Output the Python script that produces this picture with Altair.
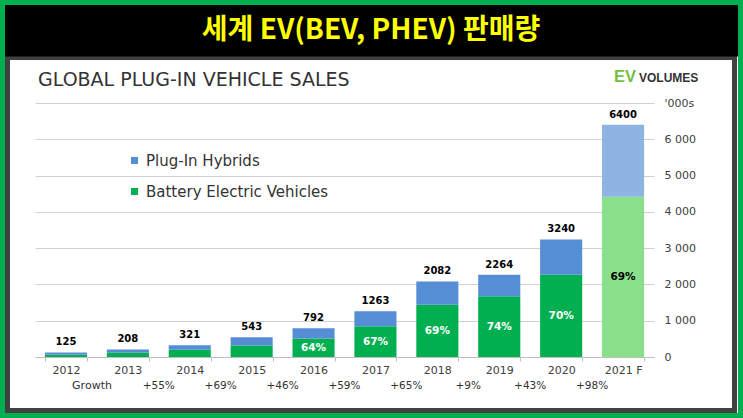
import altair as alt
import pandas as pd

# ---- data -------------------------------------------------------------
years = ["2012", "2013", "2014", "2015", "2016", "2017", "2018", "2019", "2020", "2021 F"]
totals = [125, 208, 321, 543, 792, 1263, 2082, 2264, 3240, 6400]          # '000s units
bev_share = [0.50, 0.57, 0.63, 0.59, 0.64, 0.67, 0.69, 0.74, 0.70, 0.69]  # BEV share of total
share_shown = [False, False, False, False, True, True, True, True, True, True]
growth_labels = ["", "", "+55%", "+69%", "+46%", "+59%", "+65%", "+9%", "+43%", "+98%"]
series = ["Plug-In Hybrids", "Battery Electric Vehicles"]
y_ticks = [0, 1000, 2000, 3000, 4000, 5000, 6000, 7000]

main_title = "세계 EV(BEV, PHEV) 판매량"
sub_title = "GLOBAL PLUG-IN VEHICLE SALES"

FONT = "DejaVu Sans"

# ---- tables -------------------------------------------------------------
per_year = pd.DataFrame({
    "year": years,
    "total": totals,
    "share": bev_share,
    "shown": share_shown,
    "growth": growth_labels,
})
per_year["bev"] = per_year["total"] * per_year["share"]
per_year["forecast"] = per_year["year"].str.endswith("F")

rows = []
for _, r in per_year.iterrows():
    suffix = " (F)" if r["forecast"] else ""
    rows.append({"year": r["year"], "series": series[1], "key": series[1] + suffix,
                 "value": r["bev"], "stack_order": 0})
    rows.append({"year": r["year"], "series": series[0], "key": series[0] + suffix,
                 "value": r["total"] - r["bev"], "stack_order": 1})
bars_df = pd.DataFrame(rows)

color_domain = [series[0], series[1], series[0] + " (F)", series[1] + " (F)"]
color_range = ["#558ED5", "#00B050", "#8DB4E2", "#8AE08A"]

# shared axes / scales so that every layer merges into the same guides
x_axis = alt.Axis(title=None, labelAngle=0, tickBand="extent",
                  domainColor="#BFBFBF", tickColor="#BFBFBF", tickSize=4,
                  labelPadding=3, labelFontSize=11, labelColor="#404040",
                  labelFont=FONT)
x_scale = alt.Scale(paddingInner=0.32, paddingOuter=0.16)
y_axis = alt.Axis(title=None, orient="right", values=y_ticks, domain=False,
                  ticks=False, labelPadding=10, labelFontSize=11,
                  labelColor="#404040", labelFont=FONT, gridColor="#D0D0D0",
                  labelOverlap=False,
                  labelExpr="datum.value == 7000 ? \"'000s\" : "
                            "replace(format(datum.value, ','), ',', ' ')")
y_scale = alt.Scale(domain=[0, 7000], nice=False)

x_enc = alt.X("year:N", sort=years, scale=x_scale, axis=x_axis)

# ---- stacked bars ---------------------------------------------------------
bars = alt.Chart(bars_df).mark_bar().encode(
    x=x_enc,
    y=alt.Y("value:Q", stack="zero", scale=y_scale, axis=y_axis),
    color=alt.Color(
        "key:N",
        scale=alt.Scale(domain=color_domain, range=color_range),
        legend=alt.Legend(values=series, title=None, orient="none",
                          legendX=92, legendY=50, symbolType="square",
                          symbolSize=49, symbolStrokeWidth=0, labelFont=FONT,
                          labelFontSize=15, labelColor="#333333", labelOffset=4,
                          labelLimit=0, rowPadding=15, padding=0),
    ),
    order=alt.Order("stack_order:Q"),
)

# total on top of every bar
totals_text = alt.Chart(per_year).mark_text(
    dy=-10, font=FONT, fontSize=10, fontWeight="bold", color="black"
).encode(
    x=x_enc,
    y=alt.Y("total:Q", scale=y_scale, axis=y_axis),
    text=alt.Text("total:Q"),
)

# BEV share inside the green segment
share_text = alt.Chart(per_year).transform_filter(
    alt.datum.shown
).transform_calculate(
    mid="datum.bev / 2"
).mark_text(font=FONT, fontSize=10.5, fontWeight="bold").encode(
    x=x_enc,
    y=alt.Y("mid:Q", scale=y_scale, axis=y_axis),
    text=alt.Text("share:Q", format=".0%"),
    color=alt.condition(alt.datum.forecast, alt.value("black"), alt.value("white")),
)

# year-on-year growth row below the axis
growth_text = alt.Chart(per_year).transform_filter(
    alt.datum.growth != ""
).mark_text(dx=-31, font=FONT, fontSize=10.5, color="#333333").encode(
    x=x_enc,
    y=alt.value(283),
    text=alt.Text("growth:N"),
)

growth_head = alt.Chart(pd.DataFrame({"t": ["Growth"]})).mark_text(
    font=FONT, fontSize=11, color="#333333"
).encode(x=alt.value(57), y=alt.value(283), text="t:N")

# ---- frame and headings ---------------------------------------------------
one = pd.DataFrame({"k": [0]})

green_frame = alt.Chart(one).mark_rect(
    fillOpacity=0, stroke="#00B050", strokeWidth=5
).encode(x=alt.value(-32.5), x2=alt.value(705.5), y=alt.value(-100.5), y2=alt.value(312.5))

gray_frame = alt.Chart(one).mark_rect(
    fillOpacity=0, stroke="#404040", strokeWidth=5
).encode(x=alt.value(-27.5), x2=alt.value(699.5), y=alt.value(-45.5), y2=alt.value(307.5))

black_bar = alt.Chart(one).mark_rect(color="black").encode(
    x=alt.value(-30), x2=alt.value(703), y=alt.value(-98), y2=alt.value(-46.5)
)

title_text = alt.Chart(pd.DataFrame({"t": [main_title]})).mark_text(
    font="Noto Sans CJK KR", fontWeight="bold", fontSize=28, color="#FFFF00",
    align="center", baseline="middle"
).encode(x=alt.value(336), y=alt.value(-72), text="t:N")

subtitle_text = alt.Chart(pd.DataFrame({"t": [sub_title]})).mark_text(
    font=FONT, fontSize=19, color="#333333", align="left", baseline="alphabetic"
).encode(x=alt.value(3), y=alt.value(-17), text="t:N")

logo_ev = alt.Chart(pd.DataFrame({"t": ["EV"]})).mark_text(
    font="Liberation Sans", fontWeight="bold", fontSize=16.5, color="#72BF44",
    align="left", baseline="alphabetic"
).encode(x=alt.value(579), y=alt.value(-21), text="t:N")

logo_vol = alt.Chart(pd.DataFrame({"t": ["VOLUMES"]})).mark_text(
    font="Liberation Sans", fontWeight="bold", fontSize=12, color="#333333",
    align="left", baseline="alphabetic"
).encode(x=alt.value(604), y=alt.value(-21), text="t:N")

chart = alt.layer(
    green_frame, gray_frame, black_bar, title_text, subtitle_text, logo_ev, logo_vol,
    bars, totals_text, share_text, growth_text, growth_head,
).resolve_scale(
    color="independent"
).properties(
    width=619,
    height=254,
    autosize=alt.AutoSizeParams(type="none"),
    padding={"left": 35, "top": 103, "right": 89, "bottom": 61},
    background="white",
).configure_view(stroke="transparent")

chart.save("out.html", embed_options={"renderer": "svg", "actions": False})
